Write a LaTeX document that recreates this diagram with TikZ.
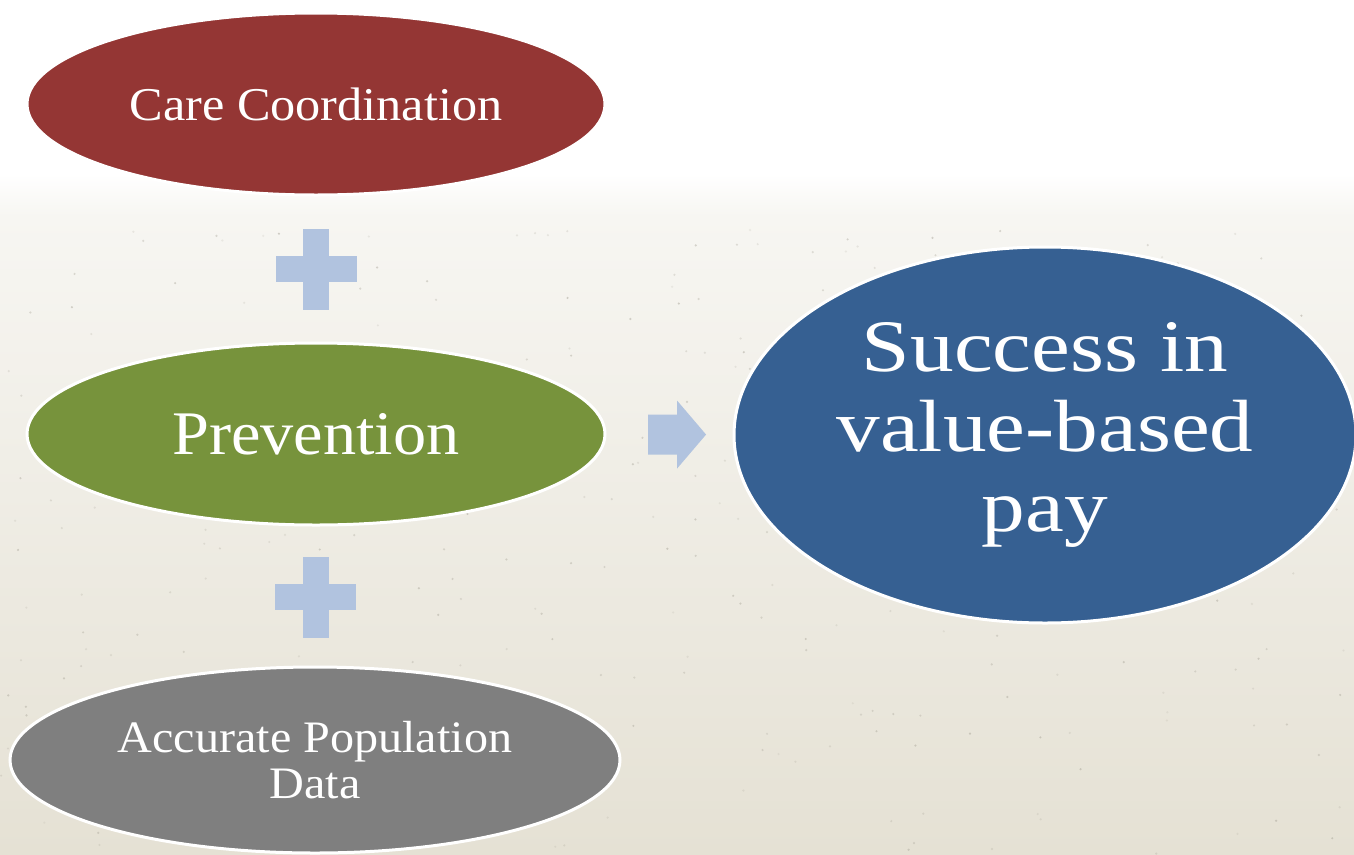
\documentclass[tikz,border=0pt]{standalone}
\usepackage{fontspec}
\setmainfont{Liberation Serif}[FakeStretch=1.07]
\newfontfamily\widefont{Liberation Serif}[FakeStretch=1.18]
\usetikzlibrary{shapes.geometric,calc}

\definecolor{careRed}{HTML}{943634}
\definecolor{prevGreen}{HTML}{77933C}
\definecolor{dataGray}{HTML}{7F7F7F}
\definecolor{goalBlue}{HTML}{366092}
\definecolor{plusBlue}{HTML}{B1C3DF}
\definecolor{paperTop}{HTML}{F7F6F2}
\definecolor{paperBottom}{HTML}{E5E1D4}
\definecolor{speck}{HTML}{A8A498}

\tikzset{
  blob/.style={ellipse, inner sep=0pt, draw=white, line width=3pt,
               text=white, align=center},
  plussign/.pic={
    \fill[plusBlue] (-13,-40.5) rectangle (13,40.5);
    \fill[plusBlue] (-40.5,-13) rectangle (40.5,13);
  },
  blockarrow/.pic={
    \fill[plusBlue] (-29,-20) -- (0,-20) -- (0,-34) -- (29,0)
                    -- (0,34) -- (0,20) -- (-29,20) -- cycle;
  }
}

\begin{document}
\begin{tikzpicture}[x=1pt,y=-1pt]
  \useasboundingbox (0,0) rectangle (1354,854);

  % paper background: white band on top fading into warm grey below
  \fill[white] (0,0) rectangle (1354,175);
  \shade[top color=white, bottom color=paperTop]
        (0,174) rectangle (1354,216);
  \shade[top color=paperTop, bottom color=paperBottom]
        (0,215) rectangle (1354,854);
  \pgfmathsetseed{11}
  \foreach \i in {1,...,320}{
    \pgfmathsetmacro\px{rnd*1354}
    \pgfmathsetmacro\py{230+rnd*624}
    \pgfmathsetmacro\op{0.15+0.35*rnd}
    \fill[speck, opacity=\op] (\px,\py) circle (1.2);
  }

  % the three ingredients
  \node[blob, fill=careRed, minimum width=578pt, minimum height=182pt,
        font=\fontsize{47}{56}\selectfont]
       (care) at (316,104) {Care Coordination};
  \node[blob, fill=prevGreen, minimum width=578pt, minimum height=182pt,
        font=\fontsize{62}{70}\selectfont]
       (prev) at (316,434) {Prevention};
  \node[blob, fill=dataGray, minimum width=610pt, minimum height=186pt,
        font=\fontsize{45}{46}\selectfont]
       (data) at (315,760) {Accurate Population\\Data};

  % the outcome
  \node[blob, fill=goalBlue, minimum width=622pt, minimum height=376pt,
        font=\widefont\fontsize{74}{80}\selectfont]
       (goal) at (1045,435) {Success in\\value-based\\pay};

  % operators between the ellipses
  \coordinate (p1) at ($(care)!0.5!(prev)$);
  \coordinate (p2) at ($(prev)!0.5!(data)$);
  \coordinate (ar) at ($(prev.east)!0.56!(goal.west)$);
  \pic at (p1) {plussign};
  \pic at (p2) {plussign};
  \pic at (ar) {blockarrow};
\end{tikzpicture}
\end{document}
